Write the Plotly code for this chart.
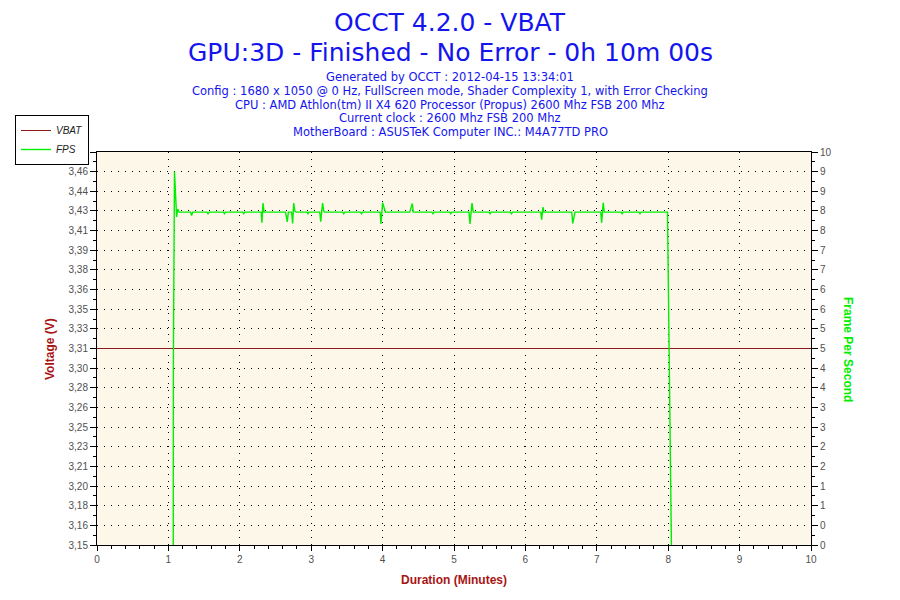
import plotly.graph_objects as go

# ---------------------------------------------------------------
# data
# ---------------------------------------------------------------
vbat_minutes = [0.0, 10.0]
vbat_volts = [3.315, 3.315]

fps_minutes = [
    1.068, 1.07, 1.085, 1.10, 1.115, 1.13, 1.15,
    1.31, 1.325, 1.34,
    1.54, 1.555, 1.57, 1.77, 1.785, 1.80, 2.04, 2.055, 2.07,
    2.30, 2.31, 2.325, 2.34,
    2.64, 2.655, 2.665, 2.68, 2.725, 2.74, 2.755, 2.77, 2.79,
    2.94, 2.955, 2.97,
    3.12, 3.133, 3.16, 3.175, 3.19,
    3.44, 3.455, 3.47, 3.69, 3.705, 3.72,
    3.965, 3.977, 4.0, 4.02, 4.04,
    4.38, 4.395, 4.416, 4.43,
    4.69, 4.705, 4.72, 4.94, 4.955, 4.97,
    5.21, 5.224, 5.252, 5.27,
    5.49, 5.505, 5.52, 5.79, 5.805, 5.82,
    6.215, 6.228, 6.246, 6.26,
    6.65, 6.662, 6.68, 6.695,
    7.055, 7.068, 7.09, 7.105,
    7.34, 7.355, 7.37, 7.59, 7.605, 7.62,
    7.99, 8.0, 8.015, 8.03, 8.045,
]
fps_values = [
    0, 4.75, 9.5, 8.95, 8.35, 8.55, 8.47,
    8.47, 8.38, 8.47,
    8.47, 8.43, 8.47, 8.47, 8.43, 8.47, 8.47, 8.43, 8.47,
    8.47, 8.2, 8.7, 8.47,
    8.47, 8.3, 8.22, 8.47, 8.47, 8.18, 8.7, 8.5, 8.47,
    8.47, 8.43, 8.47,
    8.47, 8.23, 8.7, 8.5, 8.47,
    8.47, 8.43, 8.47, 8.47, 8.43, 8.47,
    8.47, 8.17, 8.71, 8.55, 8.47,
    8.47, 8.55, 8.69, 8.47,
    8.47, 8.43, 8.47, 8.47, 8.43, 8.47,
    8.47, 8.17, 8.7, 8.47,
    8.47, 8.43, 8.47, 8.47, 8.43, 8.47,
    8.47, 8.28, 8.6, 8.47,
    8.47, 8.18, 8.37, 8.47,
    8.47, 8.2, 8.71, 8.47,
    8.47, 8.43, 8.47, 8.47, 8.43, 8.47,
    8.47, 7.02, 4.2, 1.4, 0,
]

volt_tick_labels = [
    "3,15", "3,16", "3,18", "3,20", "3,21", "3,23", "3,25", "3,26", "3,28", "3,30", "3,31",
    "3,33", "3,35", "3,36", "3,38", "3,39", "3,41", "3,43", "3,44", "3,46", "3,48",
]
fps_tick_labels = [
    "0", "0", "1", "1", "2", "2", "3", "3", "4", "4", "5",
    "5", "6", "6", "7", "7", "8", "8", "9", "9", "10",
]

title_lines = ["OCCT 4.2.0 - VBAT", "GPU:3D - Finished - No Error - 0h 10m 00s"]
info_lines = [
    "Generated by OCCT : 2012-04-15 13:34:01",
    "Config : 1680 x 1050 @ 0 Hz, FullScreen mode, Shader Complexity 1, with Error Checking",
    "CPU : AMD Athlon(tm) II X4 620 Processor (Propus) 2600 Mhz FSB 200 Mhz",
    "Current clock : 2600 Mhz FSB 200 Mhz",
    "MotherBoard : ASUSTeK Computer INC.: M4A77TD PRO",
]

# ---------------------------------------------------------------
# figure (page body has an 8px margin, so the figure is 892x592)
# ---------------------------------------------------------------
V_MIN, V_MAX = 3.15, 3.48
v_step = (V_MAX - V_MIN) / 20
volt_tickvals = [V_MIN + i * v_step for i in range(21)]
volt_minor = [V_MIN + (i + 0.5) * v_step for i in range(20)]
fps_tickvals = [i * 0.5 for i in range(21)]
fps_minor = [i * 0.5 + 0.25 for i in range(20)]

W, H, OFF = 892, 592, 8
BLUE = "#1414EE"
DARKRED = "#A81414"
GREEN = "#00EE00"
TICKFONT = dict(family="Liberation Sans, Arial", size=10, color="#505050")

fig = go.Figure()
fig.add_trace(go.Scatter(
    x=vbat_minutes, y=vbat_volts, name="VBAT", mode="lines",
    line=dict(color="#8B1A1A", width=1), yaxis="y"))
fig.add_trace(go.Scatter(
    x=fps_minutes, y=fps_values, name="FPS", mode="lines",
    line=dict(color=GREEN, width=1.4), yaxis="y2"))

fig.update_layout(
    width=W, height=H,
    margin=dict(l=97 - OFF, r=W - (811 - OFF), t=152 - OFF, b=H - (545 - OFF), autoexpand=False),
    paper_bgcolor="white",
    plot_bgcolor="#FDF7E9",
    showlegend=True,
    legend=dict(
        xref="container", yref="container", x=(15 - OFF) / W, y=1 - (115 - OFF) / H,
        xanchor="left", yanchor="top",
        bgcolor="white", bordercolor="black", borderwidth=1,
        font=dict(family="Liberation Sans, Arial", size=10, color="#222222", style="italic"),
        tracegroupgap=0, itemwidth=30,
    ),
    xaxis=dict(
        range=[0, 10], tickmode="linear", tick0=0, dtick=1,
        showline=True, linecolor="black", linewidth=1, mirror=True,
        ticks="outside", ticklen=5, tickcolor="black",
        minor=dict(dtick=0.2, ticks="outside", ticklen=3, tickcolor="black", showgrid=False),
        showgrid=True, gridcolor="black", gridwidth=1, griddash="1px,6px",
        zeroline=False, tickfont=TICKFONT,
    ),
    yaxis=dict(
        range=[V_MIN, V_MAX], tickmode="array", tickvals=volt_tickvals, ticktext=volt_tick_labels,
        showline=True, linecolor="black", linewidth=1, mirror=True,
        ticks="outside", ticklen=6, tickcolor="black",
        minor=dict(tickmode="array", tickvals=volt_minor, ticks="outside", ticklen=3,
                   tickcolor="black", showgrid=False),
        showgrid=True, gridcolor="black", gridwidth=1, griddash="1px,6px",
        zeroline=False, tickfont=TICKFONT,
    ),
    yaxis2=dict(
        range=[0, 10], overlaying="y", side="right",
        tickmode="array", tickvals=fps_tickvals, ticktext=fps_tick_labels,
        showline=True, linecolor="black", linewidth=1,
        ticks="outside", ticklen=6, tickcolor="black",
        minor=dict(tickmode="array", tickvals=fps_minor, ticks="outside", ticklen=3,
                   tickcolor="black", showgrid=False),
        showgrid=False, zeroline=False, tickfont=TICKFONT,
    ),
)

# titles as paper annotations (pixel positions taken from the reference page)
def paper_x(px):
    return (px - 97) / 714

def paper_y(py):
    return (545 - py) / 393

for text, py in zip(title_lines, [22, 53]):
    fig.add_annotation(text=text, x=paper_x(450), y=paper_y(py), xref="paper", yref="paper",
                       showarrow=False, xanchor="center", yanchor="middle",
                       font=dict(family="DejaVu Sans, Verdana", size=25, color=BLUE))
for i, text in enumerate(info_lines):
    fig.add_annotation(text=text, x=paper_x(450), y=paper_y(77 + i * 13.8), xref="paper", yref="paper",
                       showarrow=False, xanchor="center", yanchor="middle",
                       font=dict(family="DejaVu Sans, Verdana", size=11.5, color=BLUE))

# axis titles
fig.add_annotation(text="<b>Duration (Minutes)</b>", x=paper_x(454), y=paper_y(580), xref="paper", yref="paper",
                   showarrow=False, xanchor="center", yanchor="middle",
                   font=dict(family="Liberation Sans, Arial", size=12, color=DARKRED))
fig.add_annotation(text="<b>Voltage (V)</b>", x=paper_x(50), y=paper_y(349), xref="paper", yref="paper",
                   showarrow=False, textangle=-90, xanchor="center", yanchor="middle",
                   font=dict(family="Liberation Sans, Arial", size=12, color=DARKRED))
fig.add_annotation(text="<b>Frame Per Second</b>", x=paper_x(848), y=paper_y(349), xref="paper", yref="paper",
                   showarrow=False, textangle=90, xanchor="center", yanchor="middle",
                   font=dict(family="Liberation Sans, Arial", size=12, color=GREEN))

fig.write_html("out.html")
